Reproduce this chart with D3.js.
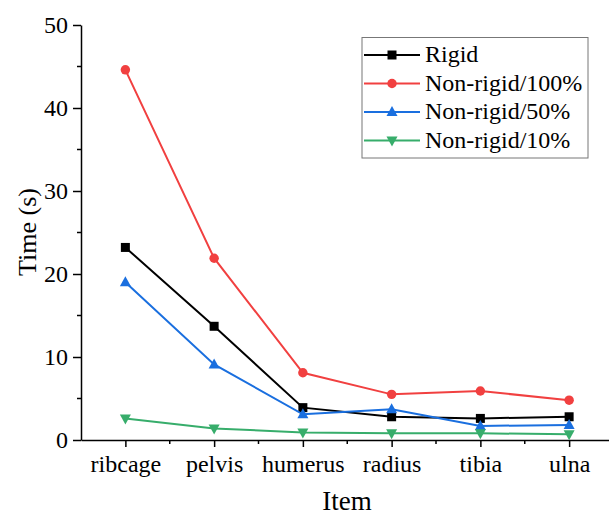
<!DOCTYPE html>
<html><head><meta charset="utf-8">
<script src="https://cdn.jsdelivr.net/npm/d3@7"></script>
<style>body{margin:0;background:#fff}svg{display:block}</style>
</head><body>
<svg id="c" width="609" height="515" font-family="'Liberation Serif', 'Times New Roman', serif"></svg>
<script>
const categories = ["ribcage","pelvis","humerus","radius","tibia","ulna"];
const rigid = [23.2, 13.7, 3.9, 2.8, 2.6, 2.8];
const nonRigid100 = [44.6, 21.9, 8.1, 5.5, 5.9, 4.8];
const nonRigid50 = [19.0, 9.1, 3.1, 3.7, 1.7, 1.8];
const nonRigid10 = [2.6, 1.4, 0.9, 0.8, 0.8, 0.7];
const seriesNames = ["Rigid","Non-rigid/100%","Non-rigid/50%","Non-rigid/10%"];
const yTicks = [0,10,20,30,40,50];
const FONT = "'Liberation Serif', 'Times New Roman', serif";

const series = [
  {name: seriesNames[0], values: rigid, color: "#000000", marker: "square"},
  {name: seriesNames[1], values: nonRigid100, color: "#F14040", marker: "circle"},
  {name: seriesNames[2], values: nonRigid50, color: "#1A6FDF", marker: "triangle"},
  {name: seriesNames[3], values: nonRigid10, color: "#37AD6B", marker: "triangleDown"}
];

const svg = d3.select("#c");
const mLeft = 81, mRight = 613.5, mTop = 25, mBottom = 440;
const x = d3.scalePoint().domain(categories).range([mLeft, mRight]).padding(0.5);
const y = d3.scaleLinear().domain([0, 50]).range([mBottom, mTop]);

// y axis
const yAxis = svg.append("g").attr("transform", `translate(${mLeft},0)`)
  .call(d3.axisLeft(y).tickValues(yTicks).tickSize(8).tickSizeOuter(0).tickPadding(5));
yAxis.attr("font-family", FONT);
yAxis.select(".domain").attr("stroke", "#000").attr("stroke-width", 1.5);
yAxis.selectAll(".tick line").attr("stroke-width", 1.5);
yAxis.selectAll(".tick text").attr("font-size", 24).attr("fill", "#000").attr("font-family", FONT);
const yMinor = d3.range(5, 50, 10);
svg.append("g").selectAll("line").data(yMinor).join("line")
  .attr("x1", mLeft - 4).attr("x2", mLeft).attr("y1", d => y(d)).attr("y2", d => y(d))
  .attr("stroke", "#000").attr("stroke-width", 1.5);

// x axis
const xAxis = svg.append("g").attr("transform", `translate(0,${mBottom})`)
  .call(d3.axisBottom(x).tickSize(7).tickSizeOuter(0).tickPadding(8));
xAxis.attr("font-family", FONT);
xAxis.select(".domain").attr("stroke", "#000").attr("stroke-width", 1.5);
xAxis.selectAll(".tick line").attr("stroke-width", 1.5);
xAxis.selectAll(".tick text").attr("font-size", 24).attr("fill", "#000").attr("font-family", FONT);
const step = x.step();
const xMinor = categories.slice(0, -1).map(c => x(c) + step / 2);
svg.append("g").selectAll("line").data(xMinor).join("line")
  .attr("x1", d => d).attr("x2", d => d).attr("y1", mBottom).attr("y2", mBottom + 4)
  .attr("stroke", "#000").attr("stroke-width", 1.5);

// axis titles
svg.append("text").attr("x", 347).attr("y", 510).attr("text-anchor", "middle")
  .attr("font-family", FONT).attr("font-size", 27).text("Item");
svg.append("text").attr("transform", "translate(36,232) rotate(-90)").attr("text-anchor", "middle")
  .attr("font-family", FONT).attr("font-size", 26).text("Time (s)");

function markerPath(type) {
  if (type === "square") return d3.symbol(d3.symbolSquare, 81)();
  if (type === "circle") return d3.symbol(d3.symbolCircle, 70)();
  if (type === "triangle") return "M0,-6L5.5,4L-5.5,4Z";
  return "M0,6L5.5,-4L-5.5,-4Z";
}

const line = d3.line().x((d, i) => x(categories[i])).y(d => y(d));
series.forEach(s => {
  const g = svg.append("g");
  g.append("path").datum(s.values).attr("d", line).attr("fill", "none")
    .attr("stroke", s.color).attr("stroke-width", 2);
  g.selectAll("path.m").data(s.values).join("path").attr("class", "m")
    .attr("d", markerPath(s.marker))
    .attr("transform", (d, i) => `translate(${x(categories[i])},${y(d)})`)
    .attr("fill", s.color);
});

// legend
const lg = svg.append("g");
lg.append("rect").attr("x", 362).attr("y", 37.5).attr("width", 226).attr("height", 120.5)
  .attr("fill", "#fff").attr("stroke", "#777").attr("stroke-width", 1);
series.forEach((s, i) => {
  const cy = 55 + i * 28.5;
  lg.append("line").attr("x1", 364).attr("x2", 420).attr("y1", cy).attr("y2", cy)
    .attr("stroke", s.color).attr("stroke-width", 2);
  lg.append("path").attr("d", markerPath(s.marker)).attr("transform", `translate(392,${cy})`)
    .attr("fill", s.color);
  lg.append("text").attr("x", 425).attr("y", cy + 7).attr("font-family", FONT)
    .attr("font-size", 24).text(s.name);
});
</script>
</body></html>
